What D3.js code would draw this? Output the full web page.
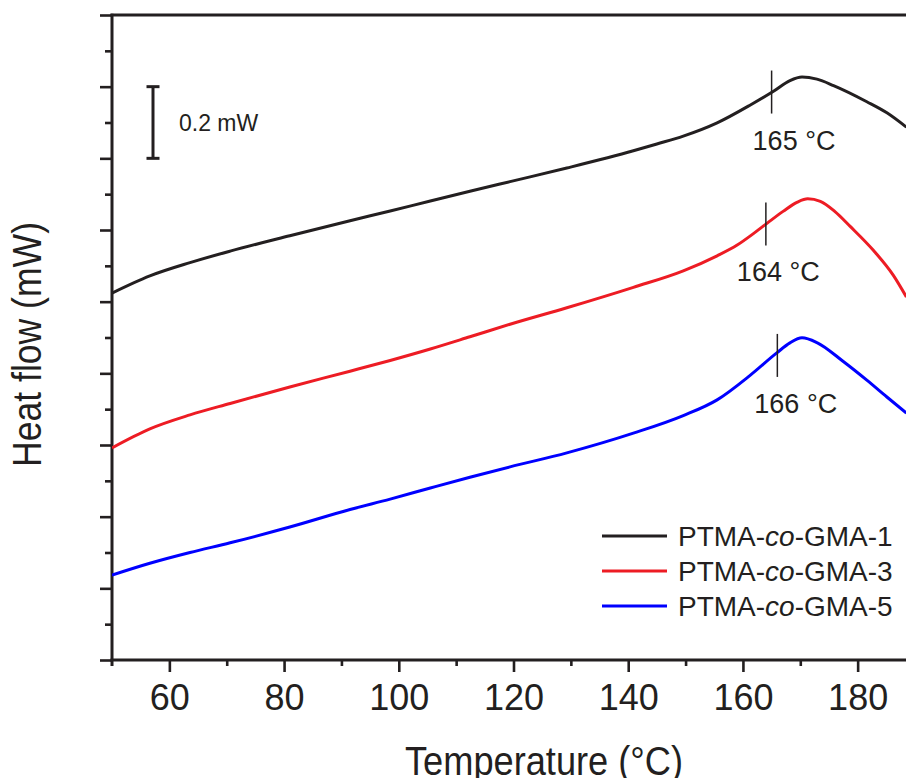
<!DOCTYPE html>
<html>
<head>
<meta charset="utf-8">
<script src="https://cdn.jsdelivr.net/npm/d3@7"></script>
<style>
  html, body { margin: 0; padding: 0; background: #fff; overflow: hidden; }
  svg { display: block; font-family: "Liberation Sans", Arial, Helvetica, sans-serif; }
</style>
</head>
<body>
<svg id="chart" width="906" height="778"></svg>
<script>
// DSC heating traces (temperature in °C, heat flow in mW, curves offset vertically)
const tempGMA1 = [50, 56.6, 63.6, 70.6, 81, 91.5, 98.5, 105.5, 112.4, 119.4, 129.3, 140.9, 145, 149.6, 155.5, 161.3, 165.4, 168.2, 170.3, 172.9, 175.8, 181.6, 185.1, 188.5];
const flowGMA1 = [1.024, 1.072, 1.109, 1.141, 1.184, 1.226, 1.253, 1.281, 1.308, 1.335, 1.373, 1.421, 1.440, 1.462, 1.499, 1.549, 1.588, 1.617, 1.627, 1.621, 1.603, 1.558, 1.527, 1.487];

const tempGMA3 = [50, 56.6, 63.6, 70.6, 81, 91.5, 98.5, 105.5, 112.4, 119.4, 129.3, 140.9, 149.6, 155.5, 159, 162, 164.3, 167, 169.5, 171.3, 173.5, 176, 178.7, 182.7, 186.2, 188.5];
const flowGMA3 = [0.592, 0.645, 0.684, 0.716, 0.762, 0.806, 0.836, 0.868, 0.902, 0.937, 0.983, 1.040, 1.086, 1.128, 1.158, 1.192, 1.220, 1.252, 1.278, 1.287, 1.280, 1.252, 1.210, 1.144, 1.074, 1.013];

const tempGMA5 = [50, 56.6, 63.6, 70.6, 81, 91.5, 98.5, 105.5, 112.4, 119.4, 129.3, 140.9, 149.6, 155.5, 161.3, 165.9, 168.2, 170.3, 172.9, 177.5, 181.6, 185.1, 188.5];
const flowGMA5 = [0.237, 0.270, 0.300, 0.327, 0.371, 0.420, 0.449, 0.480, 0.510, 0.539, 0.578, 0.633, 0.682, 0.726, 0.795, 0.857, 0.885, 0.899, 0.886, 0.833, 0.781, 0.734, 0.689];

const seriesNames = ["PTMA-co-GMA-1", "PTMA-co-GMA-3", "PTMA-co-GMA-5"];
const seriesColors = ["#231f20", "#ed1c24", "#0000ff"];

// onset temperatures marked on each trace, and the heat flow there
const onsetTemps = [165, 164, 166];
const onsetFlows = [1.585, 1.217, 0.850];

const xTickLabels = [60, 80, 100, 120, 140, 160, 180];
const scaleBarSpan = 0.2; // mW

const svg = d3.select("#chart");
const ink = "#231f20";

const x = d3.scaleLinear().domain([50, 190]).range([112, 915]);
const y = d3.scaleLinear().domain([0, 1.8]).range([660, 15]);

// ---- axes ----
const gx = svg.append("g").attr("transform", `translate(0,${y(0)})`);
gx.call(d3.axisBottom(x).tickValues(d3.range(70, 191, 20)).tickSize(6).tickFormat(""));
gx.call(g => g.append("g").call(d3.axisBottom(x).tickValues(xTickLabels).tickSize(12).tickFormat(d3.format("d"))));
gx.selectAll("path.domain").remove();
gx.selectAll("line").attr("stroke", ink).attr("stroke-width", 2.6);
gx.selectAll("text").attr("fill", ink).attr("font-size", 36)
  .attr("font-family", '"Liberation Sans", Arial, sans-serif').attr("y", 24).attr("dy", "0.72em");

const gy = svg.append("g").attr("transform", `translate(${x(50)},0)`);
gy.call(d3.axisLeft(y).tickValues(d3.range(0.1, 1.8, 0.2)).tickSize(7).tickFormat(""));
gy.call(g => g.append("g").call(d3.axisLeft(y).tickValues(d3.range(0, 1.81, 0.2)).tickSize(12).tickFormat("")));
gy.selectAll("path.domain").remove();
gy.selectAll("line").attr("stroke", ink).attr("stroke-width", 2.6);

// axis spines: left, bottom, top
svg.append("line").attr("x1", x(50)).attr("x2", x(50)).attr("y1", y(1.8) - 1.3).attr("y2", y(0) + 6)
  .attr("stroke", ink).attr("stroke-width", 3);
svg.append("line").attr("x1", x(50) - 1.5).attr("x2", 906).attr("y1", y(0)).attr("y2", y(0))
  .attr("stroke", ink).attr("stroke-width", 3);
svg.append("line").attr("x1", x(50) - 1.5).attr("x2", 906).attr("y1", y(1.8)).attr("y2", y(1.8))
  .attr("stroke", ink).attr("stroke-width", 3);

// ---- axis titles ----
svg.append("text")
  .attr("x", 544).attr("y", 775)
  .attr("text-anchor", "middle")
  .attr("font-size", 40).attr("fill", ink)
  .attr("textLength", 278).attr("lengthAdjust", "spacingAndGlyphs")
  .text("Temperature (°C)");

svg.append("text")
  .attr("transform", `translate(41,${(y(0) + y(1.8)) / 2 + 7}) rotate(-90)`)
  .attr("text-anchor", "middle")
  .attr("font-size", 40).attr("fill", ink)
  .attr("textLength", 245).attr("lengthAdjust", "spacingAndGlyphs")
  .text("Heat flow (mW)");

// ---- traces ----
const traces = [
  tempGMA1.map((t, i) => [t, flowGMA1[i]]),
  tempGMA3.map((t, i) => [t, flowGMA3[i]]),
  tempGMA5.map((t, i) => [t, flowGMA5[i]])
];
const line = d3.line().x(d => x(d[0])).y(d => y(d[1])).curve(d3.curveMonotoneX);

svg.append("clipPath").attr("id", "plotClip")
  .append("rect").attr("x", x(50)).attr("y", y(1.8)).attr("width", 906 - x(50)).attr("height", y(0) - y(1.8));

svg.append("g").attr("clip-path", "url(#plotClip)")
  .selectAll("path").data(traces).join("path")
  .attr("d", line)
  .attr("fill", "none")
  .attr("stroke", (d, i) => seriesColors[i])
  .attr("stroke-width", 3)
  .attr("stroke-linejoin", "round");

// ---- onset markers ----
const onsetHalf = 0.06;
const labelDx = [-19, -29, -23];
onsetTemps.forEach((t, i) => {
  svg.append("line")
    .attr("x1", x(t)).attr("x2", x(t))
    .attr("y1", y(onsetFlows[i] + onsetHalf)).attr("y2", y(onsetFlows[i] - onsetHalf))
    .attr("stroke", ink).attr("stroke-width", 1.5);
  svg.append("text")
    .attr("x", x(t) + labelDx[i]).attr("y", y(onsetFlows[i] - onsetHalf) + 36)
    .attr("font-size", 27).attr("fill", ink)
    .text(`${t} °C`);
});

// ---- scale bar ----
const sbX = 153, sbTop = 1.6;
const sb = svg.append("g").attr("stroke", ink).attr("stroke-width", 3);
sb.append("line").attr("x1", sbX).attr("x2", sbX).attr("y1", y(sbTop)).attr("y2", y(sbTop - scaleBarSpan));
sb.append("line").attr("x1", sbX - 6.5).attr("x2", sbX + 6.5).attr("y1", y(sbTop)).attr("y2", y(sbTop));
sb.append("line").attr("x1", sbX - 6.5).attr("x2", sbX + 6.5).attr("y1", y(sbTop - scaleBarSpan)).attr("y2", y(sbTop - scaleBarSpan));
svg.append("text").attr("x", 179).attr("y", y(sbTop - scaleBarSpan / 2) + 8)
  .attr("font-size", 23).attr("fill", ink).text(`${scaleBarSpan} mW`);

// ---- legend ----
const legend = svg.append("g").attr("transform", "translate(602,536)");
seriesNames.forEach((name, i) => {
  const row = legend.append("g").attr("transform", `translate(0,${i * 35})`);
  row.append("line").attr("x1", 0).attr("x2", 65).attr("y1", 0).attr("y2", 0)
    .attr("stroke", seriesColors[i]).attr("stroke-width", 3);
  const parts = name.split("-co-");
  const txt = row.append("text").attr("x", 76).attr("y", 10).attr("font-size", 28).attr("fill", ink);
  txt.append("tspan").text(parts[0] + "-");
  txt.append("tspan").attr("font-style", "italic").text("co");
  txt.append("tspan").text("-" + parts[1]);
});
</script>
</body>
</html>
